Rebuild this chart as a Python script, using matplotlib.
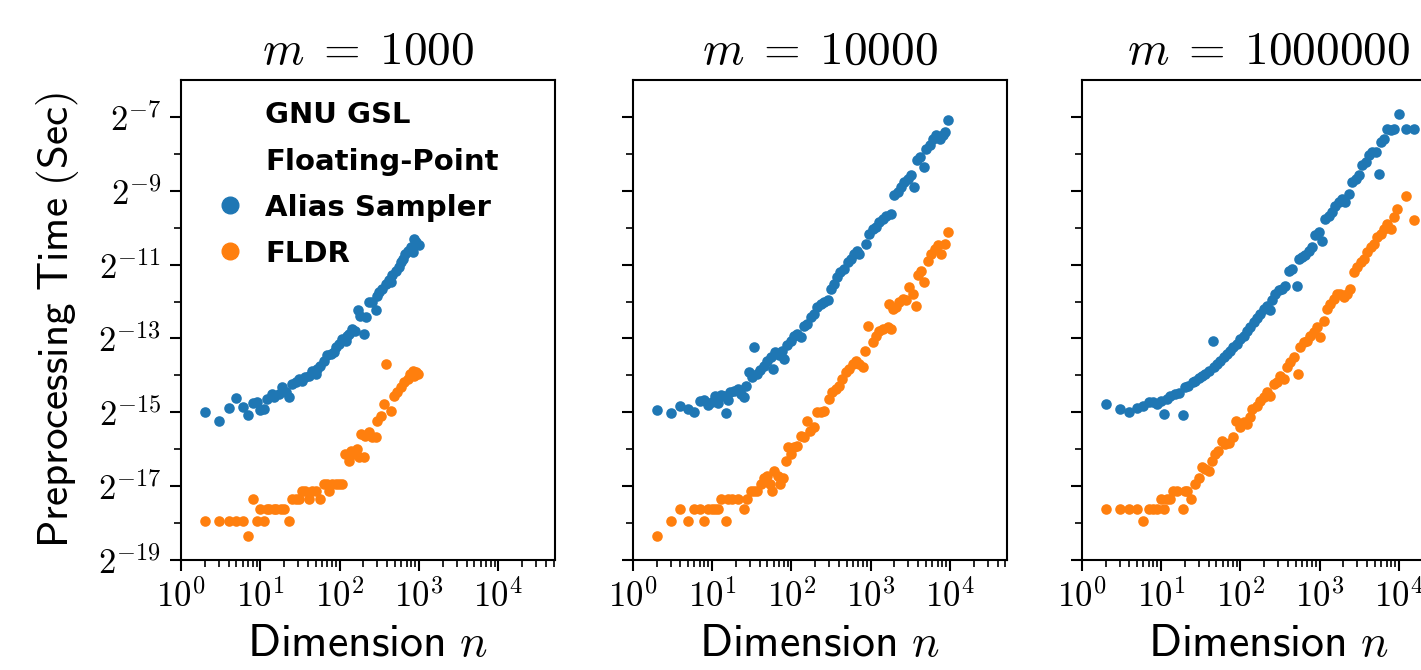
import matplotlib
matplotlib.use('Agg')
import matplotlib.pyplot as plt
from matplotlib.lines import Line2D
from matplotlib.ticker import FixedLocator, FuncFormatter, LogLocator, NullFormatter
import numpy as np

plt.rcParams['mathtext.fontset'] = 'cm'

titles = [r'$m\;=\;1000$', r'$m\;=\;10000$', r'$m\;=\;1000000$']
legend_lines = ['GNU GSL', 'Floating-Point', 'Alias Sampler', 'FLDR']
blue = '#1f77b4'
orange = '#ff7f0e'

# m = 1000 (time given as log2 of seconds)
m1000_alias_n = [2, 3, 4, 5, 6, 7, 8, 9, 10, 11, 12, 14, 15, 17, 19, 21, 23, 25, 28, 31,
                 34, 37, 41, 45, 50, 52, 57, 63, 70, 77, 85, 91, 98, 108, 119, 125, 131, 145, 156, 172,
                 179, 203, 213, 235, 259, 286, 300, 315, 347, 382, 421, 442, 464, 512, 553, 592, 621, 671, 719, 792,
                 832, 873, 916, 991]
m1000_alias_log2t = [-14.98, -15.23, -14.89, -14.62, -14.85, -15.07, -14.75, -14.73, -14.93, -14.91,
                     -14.64, -14.50, -14.58, -14.50, -14.32, -14.46, -14.59, -14.23, -14.19, -14.10,
                     -14.14, -14.05, -14.01, -13.87, -13.96, -13.83, -13.74, -13.60, -13.46, -13.42,
                     -13.37, -13.24, -13.15, -13.01, -13.06, -12.92, -12.88, -12.74, -12.79, -12.24,
                     -12.38, -12.88, -12.42, -12.02, -12.02, -12.24, -11.84, -11.75, -11.66, -11.52,
                     -11.43, -11.48, -11.29, -11.16, -11.07, -10.93, -10.84, -10.71, -10.62, -10.53,
                     -10.66, -10.30, -10.39, -10.48]
m1000_fldr_n = [2, 3, 4, 5, 6, 7, 8, 9, 10, 11, 12, 13, 15, 16, 18, 20, 23, 25, 28, 31,
                34, 37, 41, 45, 50, 57, 63, 70, 73, 81, 89, 98, 108, 117, 131, 138, 152, 167, 176, 203,
                184, 209, 235, 259, 286, 300, 330, 364, 390, 442, 487, 537, 592, 652, 719, 776, 832, 873, 916, 962]
m1000_fldr_log2t = [-17.94, -17.94, -17.94, -17.94, -17.94, -18.35, -17.35, -17.94, -17.61, -17.94,
                    -17.61, -17.61, -17.61, -17.61, -17.61, -17.61, -17.94, -17.35, -17.35, -17.35,
                    -17.13, -17.13, -17.35, -17.13, -17.13, -17.35, -16.95, -16.95, -17.13, -16.95,
                    -16.95, -16.95, -16.95, -16.13, -16.31, -16.04, -16.13, -16.00, -16.22, -16.22,
                    -15.59, -15.63, -15.54, -15.68, -15.68, -15.23, -15.09, -14.78, -13.69, -14.96,
                    -14.55, -14.46, -14.32, -14.19, -14.10, -13.96, -13.87, -14.01, -13.92, -13.96]

# m = 10000
m10000_alias_n = [2, 3, 4, 5, 6, 7, 8, 9, 10, 11, 12, 13, 14, 15, 16, 17, 19, 21, 23, 25,
                  27, 29, 32, 34, 37, 40, 45, 50, 55, 59, 63, 70, 77, 82, 89, 98, 108, 119, 131, 145,
                  160, 176, 194, 213, 235, 259, 286, 315, 347, 382, 413, 464, 512, 564, 621, 671, 719, 873, 962, 1060,
                  1169, 1288, 1420, 1564, 1808, 1993, 2196, 2421, 2668, 2940, 3241, 3572, 3857, 4252, 4686, 5015, 5528, 6093, 6715, 7401,
                  8157, 8730, 9435]
m10000_alias_log2t = [-14.94, -15.02, -14.82, -14.91, -14.98, -14.69, -14.67, -14.79, -14.73, -14.55,
                      -14.76, -14.52, -14.55, -15.02, -14.67, -14.46, -14.41, -14.37, -14.50, -14.59,
                      -14.28, -13.92, -14.05, -13.24, -13.96, -13.85, -13.74, -13.60, -13.51, -13.83,
                      -13.37, -13.46, -13.33, -13.56, -13.19, -13.06, -12.92, -12.88, -12.97, -12.65,
                      -12.61, -12.42, -12.33, -12.15, -12.06, -12.02, -11.97, -11.66, -11.52, -11.34,
                      -11.20, -11.11, -10.93, -10.84, -10.71, -10.62, -10.71, -10.44, -10.16, -10.03,
                      -9.98, -9.85, -9.76, -9.69, -9.62, -9.12, -9.03, -8.90, -8.76, -8.67,
                      -8.58, -8.90, -8.18, -8.08, -8.36, -7.86, -7.77, -7.59, -7.50, -7.59,
                      -7.50, -7.41, -7.07]
m10000_fldr_n = [2, 3, 4, 5, 6, 7, 8, 9, 10, 11, 12, 13, 15, 16, 18, 21, 25, 28, 31, 34,
                 37, 41, 45, 50, 54, 57, 60, 67, 73, 79, 85, 91, 98, 108, 119, 131, 145, 156, 172, 194,
                 209, 235, 259, 300, 330, 364, 401, 442, 487, 537, 592, 652, 719, 792, 856, 916, 1060, 1169, 1288, 1420,
                 1641, 1808, 1700, 1898, 2093, 2306, 2542, 2800, 3086, 3401, 3748, 3935, 4336, 4779, 5267, 5805, 6397, 7050, 7770, 8563,
                 9435]
m10000_fldr_log2t = [-18.35, -17.94, -17.61, -17.94, -17.61, -17.61, -17.94, -17.61, -17.61, -17.61,
                     -17.61, -17.35, -17.94, -17.35, -17.35, -17.35, -17.61, -17.35, -17.13, -17.13,
                     -17.13, -16.95, -16.77, -16.72, -16.95, -17.13, -16.58, -16.72, -16.95, -16.77,
                     -16.31, -15.95, -16.13, -15.95, -15.91, -15.63, -15.68, -15.23, -15.50, -15.41,
                     -15.00, -14.98, -14.96, -14.64, -14.46, -14.37, -14.28, -14.10, -13.92, -13.83,
                     -13.69, -13.60, -13.69, -13.78, -13.33, -12.65, -13.10, -12.92, -12.79, -12.74,
                     -12.70, -12.74, -12.06, -12.20, -12.15, -12.02, -11.93, -11.97, -11.61, -11.79,
                     -12.11, -11.29, -11.16, -11.48, -10.89, -10.71, -10.57, -10.48, -10.71, -10.44,
                     -10.12]

# m = 1000000
m1000000_alias_n = [2, 3, 4, 5, 6, 7, 8, 9, 10, 11, 12, 13, 15, 17, 19, 20, 22, 25, 27, 30,
                    33, 36, 40, 45, 47, 51, 56, 62, 68, 75, 82, 91, 100, 110, 121, 134, 147, 162, 179, 197,
                    217, 239, 251, 277, 305, 336, 370, 408, 449, 520, 546, 601, 662, 730, 804, 886, 976, 1075, 1185, 1306,
                    1439, 1585, 1746, 1924, 2120, 2335, 2573, 2835, 3124, 3442, 3793, 4179, 4604, 5073, 5589, 5867, 6466, 7125, 7850, 8649,
                    10000, 12140, 15460]
m1000000_alias_log2t = [-14.78, -14.91, -14.98, -14.89, -14.82, -14.71, -14.73, -14.78, -14.69, -15.05,
                        -14.64, -14.55, -14.50, -14.49, -15.07, -14.32, -14.28, -14.19, -14.14, -14.08,
                        -14.03, -13.96, -13.87, -13.08, -13.78, -13.69, -13.60, -13.51, -13.42, -13.33,
                        -13.24, -13.15, -13.01, -12.92, -12.79, -12.70, -12.56, -12.44, -12.33, -12.20,
                        -12.11, -12.24, -11.97, -11.79, -11.70, -11.66, -11.59, -11.16, -11.11, -11.57,
                        -10.84, -10.80, -10.75, -10.62, -10.53, -10.21, -10.12, -10.35, -9.76, -9.67,
                        -9.58, -9.40, -9.31, -9.22, -9.31, -9.08, -8.76, -8.67, -8.58, -8.31,
                        -8.22, -8.04, -7.95, -7.95, -8.54, -7.68, -7.59, -7.32, -7.36, -7.34,
                        -6.91, -7.32, -7.34]
m1000000_fldr_n = [2, 3, 4, 5, 6, 7, 8, 9, 10, 11, 12, 13, 14, 16, 19, 20, 21, 24, 27, 30,
                   33, 36, 40, 44, 48, 53, 59, 65, 71, 82, 89, 100, 110, 121, 131, 140, 162, 179, 197, 217,
                   239, 264, 291, 320, 352, 388, 428, 472, 530, 573, 631, 695, 766, 844, 929, 1025, 1129, 1244, 1371, 1510,
                   1664, 1833, 2020, 2225, 2451, 2702, 2977, 3280, 3614, 3981, 4386, 4832, 5324, 5867, 6466, 7125, 7850, 8649, 9528, 12140,
                   15460]
m1000000_fldr_log2t = [-17.61, -17.61, -17.61, -17.61, -17.94, -17.61, -17.61, -17.61, -17.35, -17.61,
                       -17.35, -17.35, -17.13, -17.13, -17.61, -17.13, -17.13, -17.35, -16.95, -16.77,
                       -16.49, -16.54, -16.58, -16.31, -16.13, -16.04, -15.77, -15.86, -15.82, -15.68,
                       -15.23, -15.41, -15.27, -15.32, -15.14, -14.91, -14.82, -14.69, -14.59, -14.46,
                       -14.55, -14.23, -14.19, -14.01, -14.10, -13.78, -13.65, -13.51, -13.96, -13.24,
                       -13.10, -13.06, -12.92, -12.83, -12.70, -12.97, -12.52, -12.20, -12.06, -11.93,
                       -11.79, -11.79, -11.88, -11.79, -11.66, -11.20, -11.07, -10.93, -10.84, -10.66,
                       -10.53, -10.44, -10.26, -10.16, -10.03, -9.89, -10.03, -9.71, -9.49, -9.15,
                       -9.78]

panels = [
    (m1000_alias_n, m1000_alias_log2t, m1000_fldr_n, m1000_fldr_log2t),
    (m10000_alias_n, m10000_alias_log2t, m10000_fldr_n, m10000_fldr_log2t),
    (m1000000_alias_n, m1000000_alias_log2t, m1000000_fldr_n, m1000000_fldr_log2t),
]

fig = plt.figure(figsize=(14.21, 6.70), dpi=100)
lefts = [181 / 1421, 632.7 / 1421, 1081.7 / 1421]
axes = []
for i, left in enumerate(lefts):
    ax = fig.add_axes([left, 110 / 670, 374 / 1421, 480 / 670])
    an, at, fn, ft = panels[i]
    ax.scatter(an, 2.0 ** np.array(at), s=58, color=blue, linewidths=0, zorder=3)
    ax.scatter(fn, 2.0 ** np.array(ft), s=58, color=orange, linewidths=0, zorder=3)

    ax.set_xscale('log')
    ax.set_yscale('log', base=2)
    ax.set_xlim(1, 5.2e4)
    ax.set_ylim(2.0 ** -19, 2.0 ** -6)

    ax.xaxis.set_major_locator(FixedLocator([1, 10, 100, 1000, 10000]))
    ax.xaxis.set_major_formatter(FuncFormatter(lambda v, p: '$10^{%d}$' % round(np.log10(v))))
    ax.xaxis.set_minor_locator(LogLocator(base=10, subs=np.arange(2, 10), numticks=20))
    ax.xaxis.set_minor_formatter(NullFormatter())

    ax.yaxis.set_major_locator(FixedLocator([2.0 ** k for k in range(-19, -6, 2)]))
    ax.yaxis.set_minor_locator(FixedLocator([2.0 ** k for k in range(-18, -6, 2)]))
    ax.yaxis.set_minor_formatter(NullFormatter())
    if i == 0:
        ax.yaxis.set_major_formatter(FuncFormatter(lambda v, p: '$2^{%d}$' % round(np.log2(v))))
    else:
        ax.yaxis.set_major_formatter(NullFormatter())

    ax.tick_params(which='major', length=8, width=1.5, labelsize=25, pad=6)
    ax.tick_params(which='minor', length=5, width=1.2)
    for sp in ax.spines.values():
        sp.set_linewidth(1.5)

    ax.set_title(titles[i], fontsize=34, pad=12)
    ax.set_xlabel(r'$\mathsf{Dimension}\ n$', fontsize=33, labelpad=5)
    axes.append(ax)

axes[0].set_ylabel(r'$\mathsf{Preprocessing\ Time\ (Sec)}$', fontsize=31, labelpad=12)

handles = [Line2D([], [], linestyle='none', marker=None),
           Line2D([], [], linestyle='none', marker=None),
           Line2D([], [], linestyle='none', marker='o', color=blue, markersize=12),
           Line2D([], [], linestyle='none', marker='o', color=orange, markersize=12)]
axes[0].legend(handles, legend_lines, loc='upper left', bbox_to_anchor=(0.03, 1.01),
               frameon=False, handlelength=0.8, handletextpad=0.8, labelspacing=0.62,
               prop={'family': 'DejaVu Sans', 'weight': 'bold', 'size': 21})

fig.savefig('out.png', dpi=100)
